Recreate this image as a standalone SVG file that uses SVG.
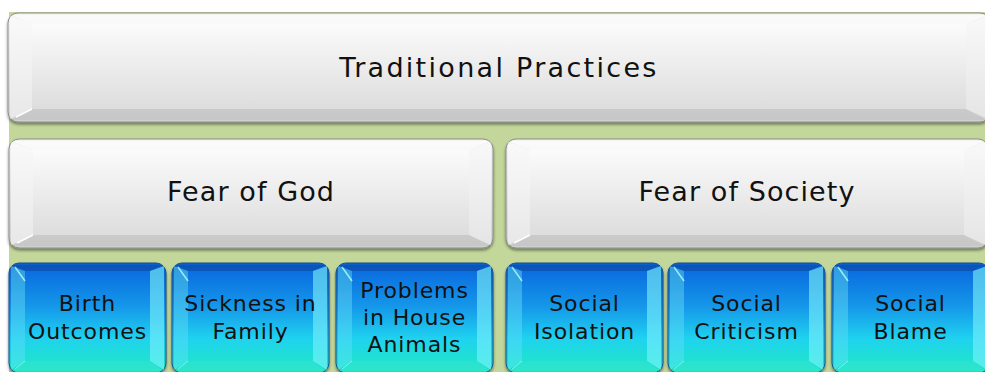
<svg xmlns="http://www.w3.org/2000/svg" xmlns:xlink="http://www.w3.org/1999/xlink" width="985" height="372" viewBox="0 0 985 372">
  <style>
    .label { font-family: "DejaVu Sans", Verdana, sans-serif; fill: #111; text-anchor: middle; }
    .big { font-size: 27px; letter-spacing: 1.1px; }
    .top { letter-spacing: 2.3px; }
    .small { font-size: 22px; letter-spacing: 0.9px; }
    .rim { stroke: #8c8c8c; stroke-width: 1; }
  </style>
  <defs>
    <linearGradient id="grayBase" x1="0" y1="0" x2="0" y2="1">
      <stop offset="0" stop-color="#f4f4f4"/>
      <stop offset="1" stop-color="#cfcfcf"/>
    </linearGradient>
    <linearGradient id="grayFace" x1="0" y1="0" x2="0" y2="1">
      <stop offset="0" stop-color="#fbfbfb"/>
      <stop offset="1" stop-color="#dddddd"/>
    </linearGradient>
    <linearGradient id="blueBase" x1="0" y1="0" x2="0" y2="1">
      <stop offset="0" stop-color="#0a5cc9"/>
      <stop offset="0.35" stop-color="#1488e2"/>
      <stop offset="0.7" stop-color="#1ec4ec"/>
      <stop offset="1" stop-color="#1ee0c4"/>
    </linearGradient>
    <linearGradient id="blueFace" x1="0" y1="0" x2="0" y2="1">
      <stop offset="0" stop-color="#0b6ee0"/>
      <stop offset="0.4" stop-color="#1598ea"/>
      <stop offset="0.75" stop-color="#1fd2ef"/>
      <stop offset="1" stop-color="#1fe2d0"/>
    </linearGradient>
    <filter id="shadow" x="-5%" y="-10%" width="110%" height="125%">
      <feDropShadow dx="0" dy="2" stdDeviation="1.5" flood-color="#000" flood-opacity="0.45"/>
    </filter>

    <!-- bevelled blue tile, 157 x 110 -->
    <g id="blueTile">
      <rect x="0" y="0" width="157" height="110" rx="10" fill="url(#blueBase)" stroke="#1b4f8a" stroke-width="1" filter="url(#shadow)"/>
      <rect x="16" y="8" width="125" height="90" fill="url(#blueFace)"/>
      <polygon points="3,2 154,2 141,8 16,8" fill="#062f80" opacity="0.25"/>
      <polygon points="2,3 16,8 16,98 2,107" fill="#6ff4ff" opacity="0.4"/>
      <polygon points="155,3 141,8 141,98 155,107" fill="#7ffaff" opacity="0.6"/>
      <polygon points="3,108 16,98 141,98 154,108" fill="#3ff0d0" opacity="0.45"/>
      <line x1="6" y1="4" x2="16" y2="18" stroke="#b8ffff" stroke-width="1.5" opacity="0.8"/>
      <line x1="16" y1="98" x2="6" y2="106" stroke="#b8ffff" stroke-width="1" opacity="0.6"/>
    </g>
  </defs>

  <!-- backdrop -->
  <rect x="0" y="0" width="985" height="372" fill="#ffffff"/>
  <rect x="9" y="12" width="976" height="360" fill="#c4d79b"/>

  <!-- top level -->
  <g id="node-traditional-practices" transform="translate(8,13)">
    <rect class="rim" x="0" y="0" width="982" height="109" rx="10" fill="url(#grayBase)" filter="url(#shadow)"/>
    <rect x="24" y="11" width="934" height="85" fill="url(#grayFace)"/>
    <polygon points="3,2 979,2 958,11 24,11" fill="#ffffff" opacity="0.6"/>
    <polygon points="2,3 24,11 24,96 2,106" fill="#ffffff" opacity="0.5"/>
    <polygon points="980,3 958,11 958,96 980,106" fill="#ffffff" opacity="0.45"/>
    <polygon points="3,107 24,96 958,96 979,107" fill="#000000" opacity="0.04"/>
    <line x1="24" y1="96" x2="8" y2="104" stroke="#ffffff" stroke-width="1.5"/>
    <text class="label big top" x="491" y="64">Traditional Practices</text>
  </g>

  <!-- second level -->
  <g id="node-fear-of-god" transform="translate(9,139)">
    <rect class="rim" x="0" y="0" width="484" height="109" rx="10" fill="url(#grayBase)" filter="url(#shadow)"/>
    <rect x="24" y="11" width="436" height="85" fill="url(#grayFace)"/>
    <polygon points="3,2 481,2 460,11 24,11" fill="#ffffff" opacity="0.6"/>
    <polygon points="2,3 24,11 24,96 2,106" fill="#ffffff" opacity="0.5"/>
    <polygon points="482,3 460,11 460,96 482,106" fill="#ffffff" opacity="0.45"/>
    <polygon points="3,107 24,96 460,96 481,107" fill="#000000" opacity="0.04"/>
    <line x1="24" y1="96" x2="8" y2="104" stroke="#ffffff" stroke-width="1.5"/>
    <text class="label big" x="242" y="62">Fear of God</text>
  </g>

  <g id="node-fear-of-society" transform="translate(506,139)">
    <rect class="rim" x="0" y="0" width="482" height="109" rx="10" fill="url(#grayBase)" filter="url(#shadow)"/>
    <rect x="24" y="11" width="434" height="85" fill="url(#grayFace)"/>
    <polygon points="3,2 479,2 458,11 24,11" fill="#ffffff" opacity="0.6"/>
    <polygon points="2,3 24,11 24,96 2,106" fill="#ffffff" opacity="0.5"/>
    <polygon points="480,3 458,11 458,96 480,106" fill="#ffffff" opacity="0.45"/>
    <polygon points="3,107 24,96 458,96 479,107" fill="#000000" opacity="0.04"/>
    <line x1="24" y1="96" x2="8" y2="104" stroke="#ffffff" stroke-width="1.5"/>
    <text class="label big" x="241" y="62">Fear of Society</text>
  </g>

  <!-- third level -->
  <g id="node-birth-outcomes">
    <use xlink:href="#blueTile" x="9" y="263"/>
    <text class="label small" x="87.5" y="311">Birth</text>
    <text class="label small" x="87.5" y="339">Outcomes</text>
  </g>
  <g id="node-sickness-in-family">
    <use xlink:href="#blueTile" x="172" y="263"/>
    <text class="label small" x="250.5" y="311">Sickness in</text>
    <text class="label small" x="250.5" y="339">Family</text>
  </g>
  <g id="node-problems-in-house-animals">
    <use xlink:href="#blueTile" x="336" y="263"/>
    <text class="label small" x="414.5" y="298">Problems</text>
    <text class="label small" x="414.5" y="325">in House</text>
    <text class="label small" x="414.5" y="352">Animals</text>
  </g>
  <g id="node-social-isolation">
    <use xlink:href="#blueTile" x="506" y="263"/>
    <text class="label small" x="584.5" y="311">Social</text>
    <text class="label small" x="584.5" y="339">Isolation</text>
  </g>
  <g id="node-social-criticism">
    <use xlink:href="#blueTile" x="668" y="263"/>
    <text class="label small" x="746.5" y="311">Social</text>
    <text class="label small" x="746.5" y="339">Criticism</text>
  </g>
  <g id="node-social-blame">
    <use xlink:href="#blueTile" x="832" y="263"/>
    <text class="label small" x="910.5" y="311">Social</text>
    <text class="label small" x="910.5" y="339">Blame</text>
  </g>

  <!-- hierarchy is shown by stacking; no drawn connectors -->
  <g id="connectors"/>
</svg>
